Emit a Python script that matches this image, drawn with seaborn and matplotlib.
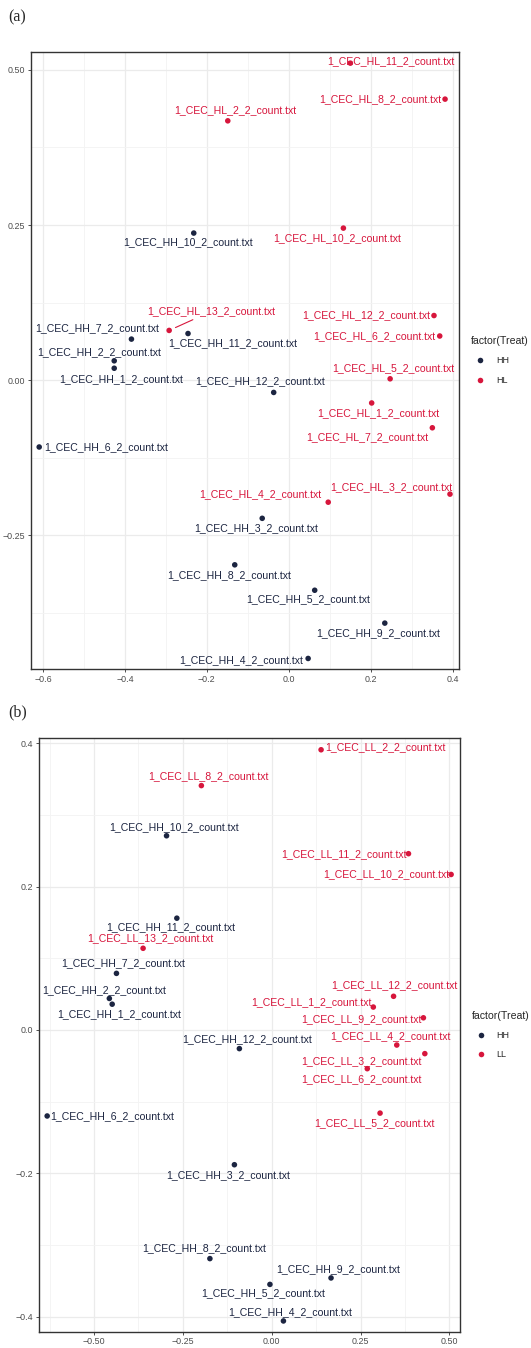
import numpy as np
import pandas as pd
import seaborn as sns
import matplotlib.pyplot as plt
from matplotlib.ticker import MultipleLocator

# ---- panel (a): HH vs HL ----
a_labels = ['1_CEC_HH_10_2_count.txt', '1_CEC_HH_7_2_count.txt', '1_CEC_HH_2_2_count.txt',
            '1_CEC_HH_1_2_count.txt', '1_CEC_HH_11_2_count.txt', '1_CEC_HH_12_2_count.txt',
            '1_CEC_HH_6_2_count.txt', '1_CEC_HH_3_2_count.txt', '1_CEC_HH_8_2_count.txt',
            '1_CEC_HH_5_2_count.txt', '1_CEC_HH_9_2_count.txt', '1_CEC_HH_4_2_count.txt',
            '1_CEC_HL_11_2_count.txt', '1_CEC_HL_8_2_count.txt', '1_CEC_HL_2_2_count.txt',
            '1_CEC_HL_10_2_count.txt', '1_CEC_HL_13_2_count.txt', '1_CEC_HL_12_2_count.txt',
            '1_CEC_HL_6_2_count.txt', '1_CEC_HL_5_2_count.txt', '1_CEC_HL_1_2_count.txt',
            '1_CEC_HL_7_2_count.txt', '1_CEC_HL_3_2_count.txt', '1_CEC_HL_4_2_count.txt']
a_x = [-0.232, -0.384, -0.426, -0.426, -0.246, -0.037, -0.609, -0.065, -0.132, 0.063, 0.234, 0.047,
       0.150, 0.381, -0.149, 0.133, -0.292, 0.354, 0.368, 0.247, 0.202, 0.350, 0.393, 0.096]
a_y = [0.237, 0.066, 0.031, 0.019, 0.075, -0.020, -0.108, -0.223, -0.298, -0.339, -0.392, -0.449,
       0.511, 0.453, 0.418, 0.245, 0.080, 0.104, 0.071, 0.002, -0.037, -0.077, -0.184, -0.197]
a_treat = ['HH'] * 12 + ['HL'] * 12

# ---- panel (b): HH vs LL ----
b_labels = ['1_CEC_HH_10_2_count.txt', '1_CEC_HH_11_2_count.txt', '1_CEC_HH_7_2_count.txt',
            '1_CEC_HH_2_2_count.txt', '1_CEC_HH_1_2_count.txt', '1_CEC_HH_12_2_count.txt',
            '1_CEC_HH_6_2_count.txt', '1_CEC_HH_3_2_count.txt', '1_CEC_HH_8_2_count.txt',
            '1_CEC_HH_5_2_count.txt', '1_CEC_HH_9_2_count.txt', '1_CEC_HH_4_2_count.txt',
            '1_CEC_LL_2_2_count.txt', '1_CEC_LL_8_2_count.txt', '1_CEC_LL_11_2_count.txt',
            '1_CEC_LL_10_2_count.txt', '1_CEC_LL_13_2_count.txt', '1_CEC_LL_12_2_count.txt',
            '1_CEC_LL_1_2_count.txt', '1_CEC_LL_9_2_count.txt', '1_CEC_LL_4_2_count.txt',
            '1_CEC_LL_3_2_count.txt', '1_CEC_LL_6_2_count.txt', '1_CEC_LL_5_2_count.txt']
b_x = [-0.296, -0.267, -0.437, -0.457, -0.449, -0.091, -0.632, -0.105, -0.174, -0.005, 0.167, 0.033,
       0.139, -0.198, 0.385, 0.505, -0.362, 0.343, 0.286, 0.427, 0.352, 0.431, 0.269, 0.305]
b_y = [0.271, 0.156, 0.079, 0.044, 0.036, -0.026, -0.120, -0.188, -0.319, -0.355, -0.346, -0.406,
       0.391, 0.341, 0.246, 0.217, 0.114, 0.047, 0.032, 0.017, -0.021, -0.033, -0.054, -0.116]
b_treat = ['HH'] * 12 + ['LL'] * 12

# label offsets (pixels, screen: +x right, +y down), ggrepel-like placement
a_off = [(-6, 9), (-34, -11), (-15, -9), (7, 11), (45, 10), (-14, -11),
         (67, 0), (-6, 10), (-6, 10), (-7, 9), (-7, 10), (-67, 2),
         (40, -2), (-65, 0), (7, -11), (-6, 10), (42, -19), (-68, 0),
         (-65, 0), (3, -11), (7, 10), (-65, 9), (-59, -7), (-68, -8)]
b_off = [(7, -9), (-6, 9), (7, -10), (-5, -8), (7, 10), (8, -9),
         (65, 0), (-6, 10), (-6, -10), (-7, 9), (7, -9), (7, -9),
         (64, -3), (7, -9), (-65, 0), (-65, 0), (7, -10), (1, -11),
         (-62, -5), (-62, 1), (-6, -9), (-63, 7), (-6, 10), (-6, 10)]

NAVY = '#1c2541'
RED = '#d7163c'
LABEL_FONT = ['Liberation Sans', 'DejaVu Sans']

sns.set_theme(style='white')
plt.rcParams['font.family'] = ['Liberation Sans', 'DejaVu Sans']

fig = plt.figure(figsize=(5.31, 13.48), dpi=100)
ax_a = fig.add_axes([31 / 531, 1 - 669 / 1348, 428 / 531, 617 / 1348])
ax_b = fig.add_axes([39 / 531, 1 - 1331.7 / 1348, 421 / 531, 593.4 / 1348])


def draw_panel(ax, labels, xs, ys, treat, offs, second, xlim, ylim, xmaj, ymaj, xfmt, yfmt):
    df = pd.DataFrame({'x': xs, 'y': ys, 'Treat': treat, 'label': labels})
    pal = {'HH': NAVY, second: RED}
    sns.scatterplot(data=df, x='x', y='y', hue='Treat', palette=pal, s=16, linewidth=0,
                    ax=ax, zorder=3)
    for (_, r), (dx, dy) in zip(df.iterrows(), offs):
        col = pal[r['Treat']]
        arrow = None
        if abs(dx) > 30 and abs(dy) > 15:
            arrow = dict(arrowstyle='-', color=col, lw=0.8, shrinkA=0, shrinkB=5)
        ax.annotate(r['label'], (r['x'], r['y']), xytext=(dx, -dy), textcoords='offset pixels',
                    ha='center', va='center', fontsize=7.6, color=col, family=LABEL_FONT,
                    arrowprops=arrow, zorder=4)
    ax.set_xlim(*xlim)
    ax.set_ylim(*ylim)
    ax.xaxis.set_major_locator(MultipleLocator(xmaj))
    ax.yaxis.set_major_locator(MultipleLocator(ymaj))
    ax.xaxis.set_minor_locator(MultipleLocator(xmaj / 2))
    ax.yaxis.set_minor_locator(MultipleLocator(ymaj / 2))
    ax.xaxis.set_major_formatter(xfmt)
    ax.yaxis.set_major_formatter(yfmt)
    ax.grid(which='major', color='#ebebeb', lw=0.9, zorder=0)
    ax.grid(which='minor', color='#f3f3f3', lw=0.6, zorder=0)
    ax.set_axisbelow(True)
    ax.tick_params(which='major', length=2.5, width=0.6, color='#333333', labelsize=6.4,
                   labelcolor='#4d4d4d', pad=1.5, bottom=True, left=True)
    ax.tick_params(which='minor', length=0)
    for sp in ax.spines.values():
        sp.set_color('#333333')
        sp.set_linewidth(1.0)
    ax.set_xlabel('')
    ax.set_ylabel('')
    sns.move_legend(ax, 'center left', bbox_to_anchor=(1.01, 0.5), frameon=False,
                    title='factor(Treat)', fontsize=6.5, title_fontsize=7.6,
                    handletextpad=0.7, labelspacing=1.15, markerscale=1.0)
    leg = ax.get_legend()
    leg._legend_box.align = 'left'


def fmt2(v, pos):
    return f'{v:.2f}'.replace('-', '\u2212')


def fmt1(v, pos):
    return f'{v:.1f}'.replace('-', '\u2212')


draw_panel(ax_a, a_labels, a_x, a_y, a_treat, a_off, 'HL',
           (-0.629, 0.415), (-0.466, 0.529), 0.2, 0.25, fmt1, fmt2)
draw_panel(ax_b, b_labels, b_x, b_y, b_treat, b_off, 'LL',
           (-0.655, 0.530), (-0.421, 0.407), 0.25, 0.2, fmt2, fmt1)

fig.text(8 / 531, 1 - 17 / 1348, '(a)', family=['Liberation Serif', 'DejaVu Serif'],
         fontsize=11.5, va='center', ha='left')
fig.text(8 / 531, 1 - 712 / 1348, '(b)', family=['Liberation Serif', 'DejaVu Serif'],
         fontsize=11.5, va='center', ha='left')

fig.savefig('out.png', dpi=100, facecolor='white')
